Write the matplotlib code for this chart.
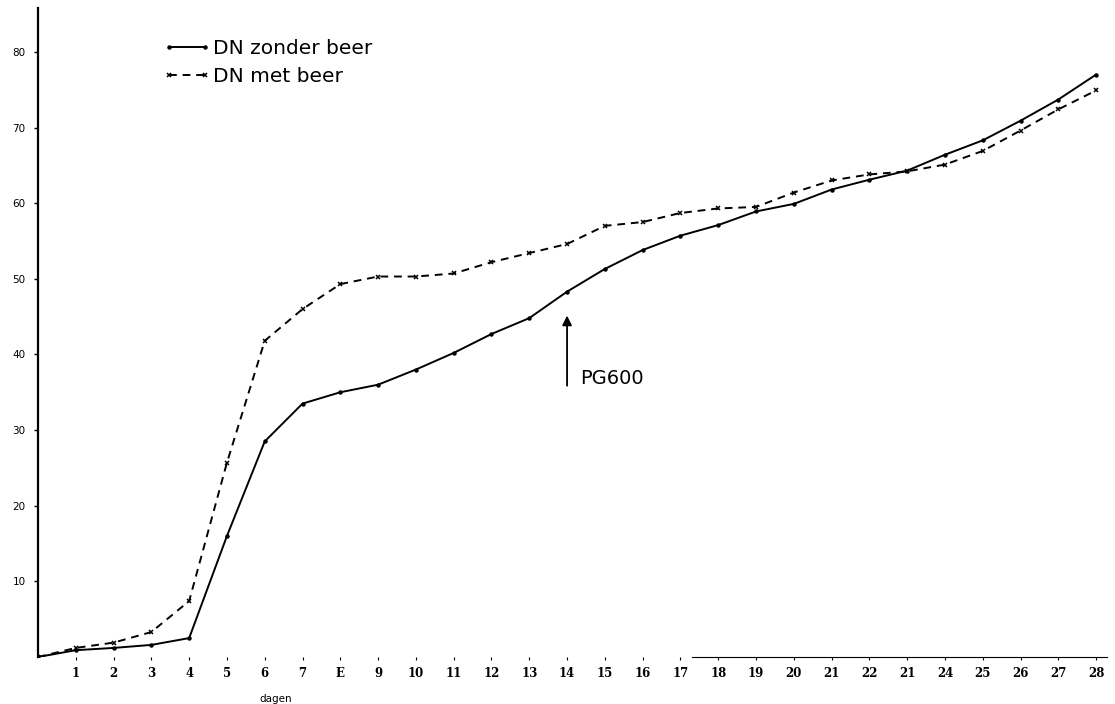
import numpy as np
import matplotlib.pyplot as plt

# dagen en waarden
dagen = list(range(0, 29))
zonder_beer = [0, 0.9, 1.2, 1.6, 2.5, 16.0, 28.5, 33.5, 35.0, 36.0, 38.0, 40.2,
               42.7, 44.8, 48.3, 51.3, 53.8, 55.7, 57.1, 58.9, 59.9, 61.8,
               63.1, 64.3, 66.4, 68.3, 70.9, 73.7, 77.0]
met_beer = [0, 1.2, 1.9, 3.3, 7.4, 25.7, 41.8, 46.0, 49.3, 50.3, 50.3, 50.7,
            52.2, 53.4, 54.6, 57.0, 57.5, 58.7, 59.3, 59.5, 61.4, 63.0,
            63.8, 64.2, 65.1, 66.9, 69.6, 72.4, 74.9]
x_labels = ["1", "2", "3", "4", "5", "6", "7", "E", "9", "10", "11", "12", "13",
            "14", "15", "16", "17", "18", "19", "20", "21", "22", "21", "24",
            "25", "26", "27", "28"]
y_ticks = [10, 20, 30, 40, 50, 60, 70, 80]

fig = plt.figure(figsize=(11.15, 7.04), dpi=100)
ax = fig.add_axes([38 / 1115, 47 / 704, 1077 / 1115, 649 / 704])

ax.plot(dagen, zonder_beer, color="black", lw=1.4, marker="o", ms=2.2,
        label="DN zonder beer")
ax.plot(dagen, met_beer, color="black", lw=1.4, ls=(0, (4, 3)), marker="x",
        ms=3.2, mew=1.1, label="DN met beer")

ax.set_xlim(0, 28.5)
ax.set_ylim(0, 85.8)

# assen
for s in ["top", "right"]:
    ax.spines[s].set_visible(False)
ax.spines["left"].set_linewidth(1.6)
ax.spines["bottom"].set_linewidth(0.8)
ax.spines["bottom"].set_bounds(17.3, 28.3)

ax.set_xticks(range(1, 29))
ax.set_xticklabels(x_labels, fontfamily="DejaVu Serif", fontweight="bold",
                   fontsize=8.5)
ax.tick_params(axis="x", length=2, width=0.8, pad=5)
ax.set_yticks(y_ticks)
ax.set_yticklabels([str(v) for v in y_ticks], fontsize=7.5)
ax.tick_params(axis="y", length=3, width=1, pad=6)

ax.text(6.3, -5.6, "dagen", fontsize=7.5, ha="center", va="center")

# PG600 pijl
ax.annotate("", xy=(14.0, 45.5), xytext=(14.0, 35.5),
            arrowprops=dict(arrowstyle="-|>", color="black", lw=1.3,
                            mutation_scale=14))
ax.text(14.35, 36.8, "PG600", fontsize=14, ha="left", va="center")

ax.legend(loc="upper left", bbox_to_anchor=(153 / 1115, 1 - 29 / 704),
          bbox_transform=fig.transFigure, frameon=False, numpoints=2,
          handlelength=2.4, handletextpad=0.1, labelspacing=0.45,
          fontsize=14.5, borderpad=0)

fig.savefig("out.png", dpi=100)
